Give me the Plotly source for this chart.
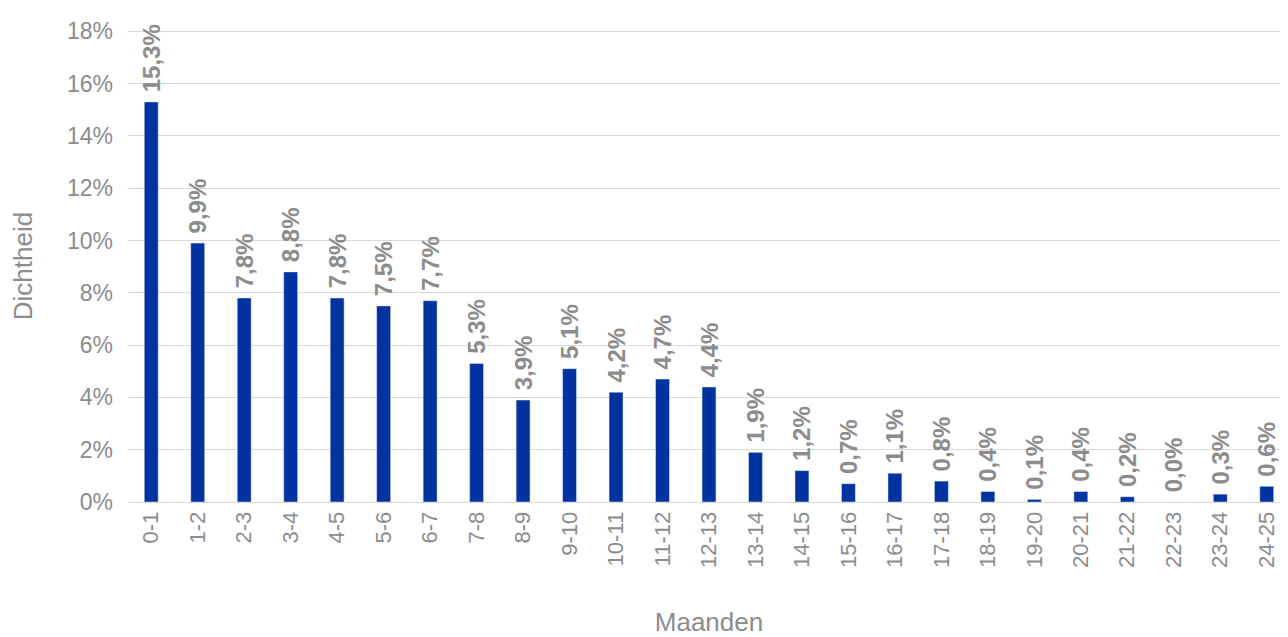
import plotly.graph_objects as go

categories = [f"{i}-{i+1}" for i in range(25)]
values = [15.3, 9.9, 7.8, 8.8, 7.8, 7.5, 7.7, 5.3, 3.9, 5.1, 4.2, 4.7, 4.4, 1.9, 1.2, 0.7, 1.1, 0.8, 0.4, 0.1, 0.4, 0.2, 0.0, 0.3, 0.6]

gray = "#8c8c8c"
fig = go.Figure(go.Bar(
    x=categories, y=values, marker_color="#0033a0", width=0.3,
    text=[" " + f"{v:.1f}%".replace(".", ",") for v in values],
    textposition="outside", textangle=-90, cliponaxis=False, constraintext="none",
    textfont=dict(family="Arial, Liberation Sans", size=24, color=gray, weight="bold"),
))
fig.update_layout(
    width=1288, height=637, plot_bgcolor="white", paper_bgcolor="white",
    margin=dict(l=120, r=6, t=22, b=143, autoexpand=False), showlegend=False,
    font=dict(family="Arial, Liberation Sans", color=gray, size=22),
)
fig.update_xaxes(type="category", title=dict(text="Maanden", standoff=45), tickangle=-90, showline=True,
                 linecolor="#d9d9d9", ticks="", tickfont=dict(size=22, color=gray), automargin=False)
fig.update_yaxes(title=dict(text="Dichtheid", standoff=26), range=[0, 18.05], dtick=2, ticksuffix="%",
                 gridcolor="#d9d9d9", zeroline=False, tickfont=dict(size=23, color=gray), automargin=False,
                 ticklabelstandoff=14)
fig.write_html("out.html")
